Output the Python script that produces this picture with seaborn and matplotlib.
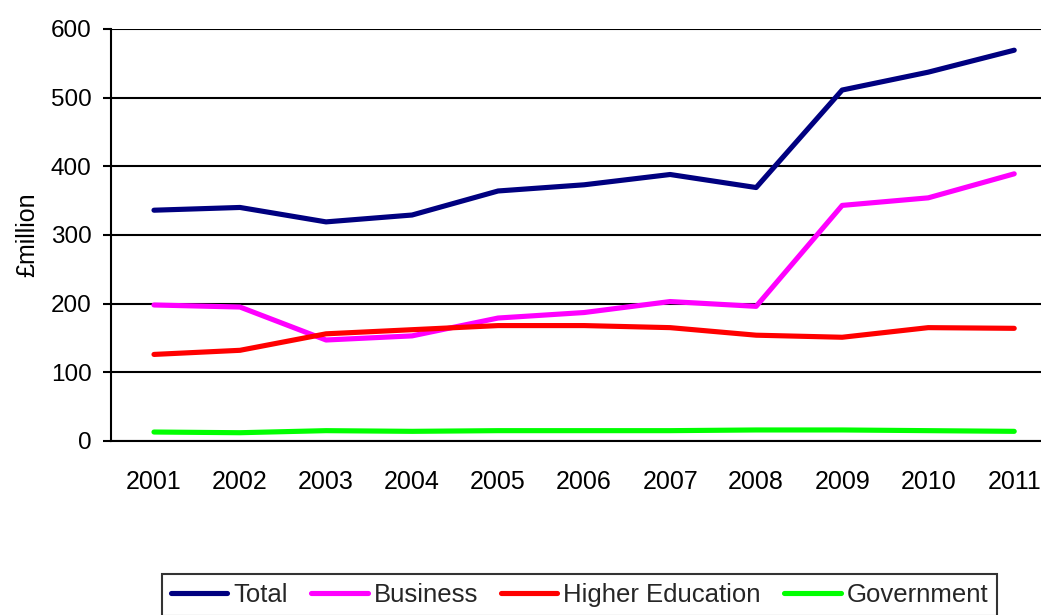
import pandas as pd
import matplotlib.pyplot as plt
import seaborn as sns

# Chart data
years = [2001, 2002, 2003, 2004, 2005, 2006, 2007, 2008, 2009, 2010, 2011]
total = [336, 340, 319, 329, 364, 373, 388, 369, 511, 537, 569]
business = [198, 195, 147, 153, 179, 187, 203, 196, 343, 354, 389]
higher_education = [126, 132, 156, 162, 168, 168, 165, 154, 151, 165, 164]
government = [13, 12, 15, 14, 15, 15, 15, 16, 16, 15, 14]

series_names = ['Total', 'Business', 'Higher Education', 'Government']
series_colors = ['#000080', '#FF00FF', '#FF0000', '#00FF00']

# Long-form table for seaborn
df = pd.DataFrame({
    'year': years * 4,
    'value': total + business + higher_education + government,
    'sector': sum([[name] * len(years) for name in series_names], []),
})

sns.set_theme(style="white")
plt.rcParams['font.family'] = ['Liberation Sans', 'DejaVu Sans']

fig = plt.figure(figsize=(10.41, 6.15), dpi=100)
ax = fig.add_axes([0.1066, 0.283, 0.909, 0.670])

sns.lineplot(data=df, x='year', y='value', hue='sector', hue_order=series_names,
             palette=series_colors, linewidth=3.7, ax=ax, legend=False)

ax.set_xlim(2000.5, 2011.5)
ax.set_ylim(0, 600)
ax.set_xticks(years)
ax.set_xticklabels([str(y) for y in years], fontsize=18, color='black')
ax.set_yticks(range(0, 700, 100))
ax.tick_params(axis='y', labelsize=17.5, colors='black', direction='out',
               length=6, width=1.5, left=True, pad=8)
ax.tick_params(axis='x', length=0, pad=21)
ax.set_xlabel('')
ax.set_ylabel('£million', fontsize=18, color='black', labelpad=8)

# Horizontal black gridlines
ax.grid(axis='y', color='black', linewidth=1.5)
ax.set_axisbelow(True)
for side in ['top', 'right']:
    ax.spines[side].set_visible(False)
for side in ['left', 'bottom']:
    ax.spines[side].set_color('black')
    ax.spines[side].set_linewidth(1.5)

# Legend along the bottom
handles = [plt.Line2D([0], [0], color=c, linewidth=3.7) for c in series_colors]
leg = fig.legend(handles, series_names, loc='upper center', bbox_to_anchor=(0.5567, 0.0667),
                 ncol=4, fontsize=18.5, frameon=True, fancybox=False,
                 handlelength=2.2, handletextpad=0.23, columnspacing=0.9,
                 borderpad=0.35, borderaxespad=0)
leg.get_frame().set_edgecolor('black')
leg.get_frame().set_linewidth(1.5)

fig.savefig('out.png', dpi=100)
